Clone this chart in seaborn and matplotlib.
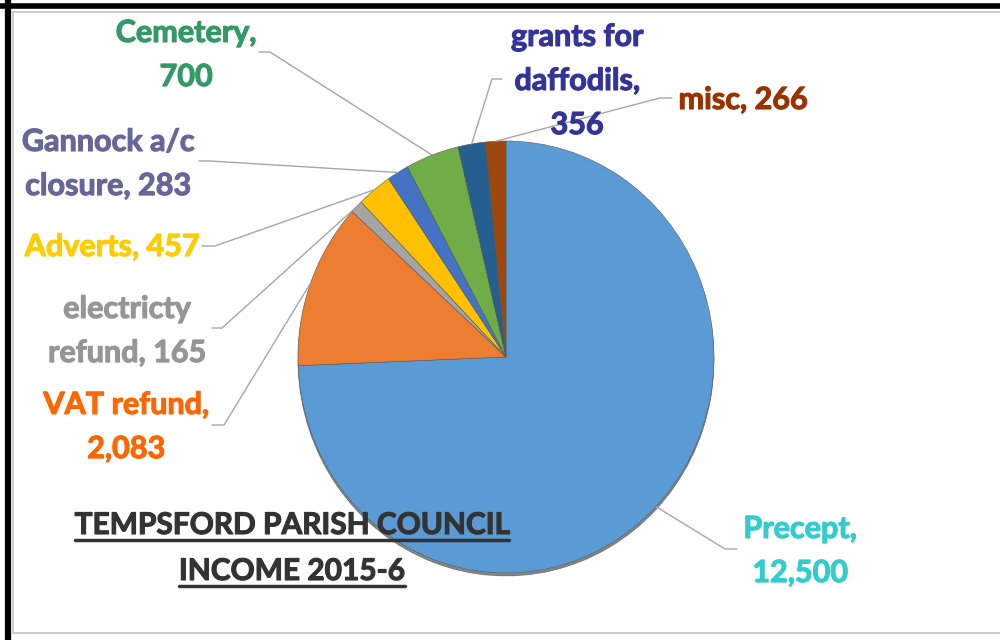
import numpy as np
import seaborn as sns
import matplotlib.pyplot as plt
from matplotlib.lines import Line2D
import matplotlib.patheffects as pe

# income items, drawn clockwise from 12 o'clock
items = ["Precept", "VAT refund", "electricty\nrefund", "Adverts", "Gannock a/c\nclosure",
         "Cemetery", "grants for\ndaffodils", "misc"]
amounts = [12500, 2083, 165, 457, 283, 700, 356, 266]
slice_colors = ["#5B9BD5", "#ED7D31", "#A5A5A5", "#FFC000", "#4472C4",
                "#70AD47", "#255E91", "#9E480E"]
label_colors = ["#33CCCC", "#FF6600", "#969696", "#FFCC00", "#666699",
                "#339966", "#333399", "#993300"]
label_texts = ["Precept,\n12,500", "VAT refund,\n2,083", "electricty\nrefund, 165",
               "Adverts, 457", "Gannock a/c\nclosure, 283", "Cemetery,\n700",
               "grants for\ndaffodils,\n356", "misc, 266"]
title_lines = ["TEMPSFORD PARISH COUNCIL", "INCOME 2015-6"]

sns.set_theme(style="white")
plt.rcParams["font.family"] = ["Lato", "DejaVu Sans"]

W, H = 1000, 640
fig = plt.figure(figsize=(W / 100, H / 100), dpi=100)
fig.patch.set_facecolor("white")

# pie box in pixels (slightly taller than wide, like the source)
cx, cy, rx, ry = 506, 357, 208, 216
pie_ax = fig.add_axes([(cx - rx) / W, (H - cy - ry) / H, 2 * rx / W, 2 * ry / H])
pie_ax.pie(amounts, colors=slice_colors, startangle=90, counterclock=False,
           wedgeprops=dict(edgecolor="#5a5a5a", linewidth=0.4),
           shadow=dict(ox=0.0, oy=-0.01, shade=0.9))
pie_ax.set_xlim(-1, 1)
pie_ax.set_ylim(-1, 1)
pie_ax.set_aspect("auto")
pie_ax.axis("off")

# overlay in pixel coordinates for labels, leaders, frame
ov = fig.add_axes([0, 0, 1, 1], zorder=5)
ov.set_xlim(0, W)
ov.set_ylim(H, 0)
ov.axis("off")
ov.patch.set_alpha(0)

# label placement: (text centre x, y, ha, leader start, elbow)
layout = [
    (800, 551, "center", (737, 549), (725, 549)),
    (126, 427, "center", (212, 425), (224, 425)),
    (127, 331, "center", (212, 328), (222, 328)),
    (112, 247, "center", (202, 246), (215, 246)),
    (108, 164, "center", (199, 161), (210, 161)),
    (186, 55, "center", (259, 52), (270, 52)),
    (577, 81, "center", (502, 79), (492, 79)),
    (743, 100, "center", (672, 98), (660, 98)),
]

vals = np.array(amounts, dtype=float)
cum = np.cumsum(vals) - vals / 2
mid = np.deg2rad(90 - 360 * cum / vals.sum())

for i, (tx, ty, ha, p0, p1) in enumerate(layout):
    ex = cx + rx * np.cos(mid[i])
    ey = cy - ry * np.sin(mid[i])
    ov.add_line(Line2D([p0[0], p1[0], ex], [p0[1], p1[1], ey],
                       color="#A6A6A6", linewidth=1.0))
    ov.text(tx, ty, label_texts[i], color=label_colors[i], fontsize=22,
            fontweight="bold", ha=ha, va="center", linespacing=1.7,
            path_effects=[pe.withStroke(linewidth=0.8, foreground=label_colors[i])])

# underlined title
fig.canvas.draw()
renderer = fig.canvas.get_renderer()
for line, by in zip(title_lines, [534, 580]):
    t = ov.text(292, by, line, color="#333333", fontsize=21.5, fontweight="bold",
                ha="center", va="baseline",
                path_effects=[pe.withStroke(linewidth=0.8, foreground="#333333")])
    bb = t.get_window_extent(renderer)
    ov.add_line(Line2D([bb.x0, bb.x1], [by + 6, by + 6], color="#333333", linewidth=2.5))

# picture frame: black outer edge, grey inner edge
ov.add_line(Line2D([7.5, 7.5], [0, H], color="black", linewidth=4.5, clip_on=False))
ov.add_line(Line2D([0, W], [6, 6], color="black", linewidth=4, clip_on=False))
ov.add_line(Line2D([13, 13], [12, 633], color="#C8C8C8", linewidth=1.3, clip_on=False))
ov.add_line(Line2D([13, W], [12, 12], color="#C8C8C8", linewidth=1.3, clip_on=False))
ov.add_line(Line2D([13, W], [633, 633], color="#C8C8C8", linewidth=1.3, clip_on=False))

fig.savefig("out.png", dpi=100)
